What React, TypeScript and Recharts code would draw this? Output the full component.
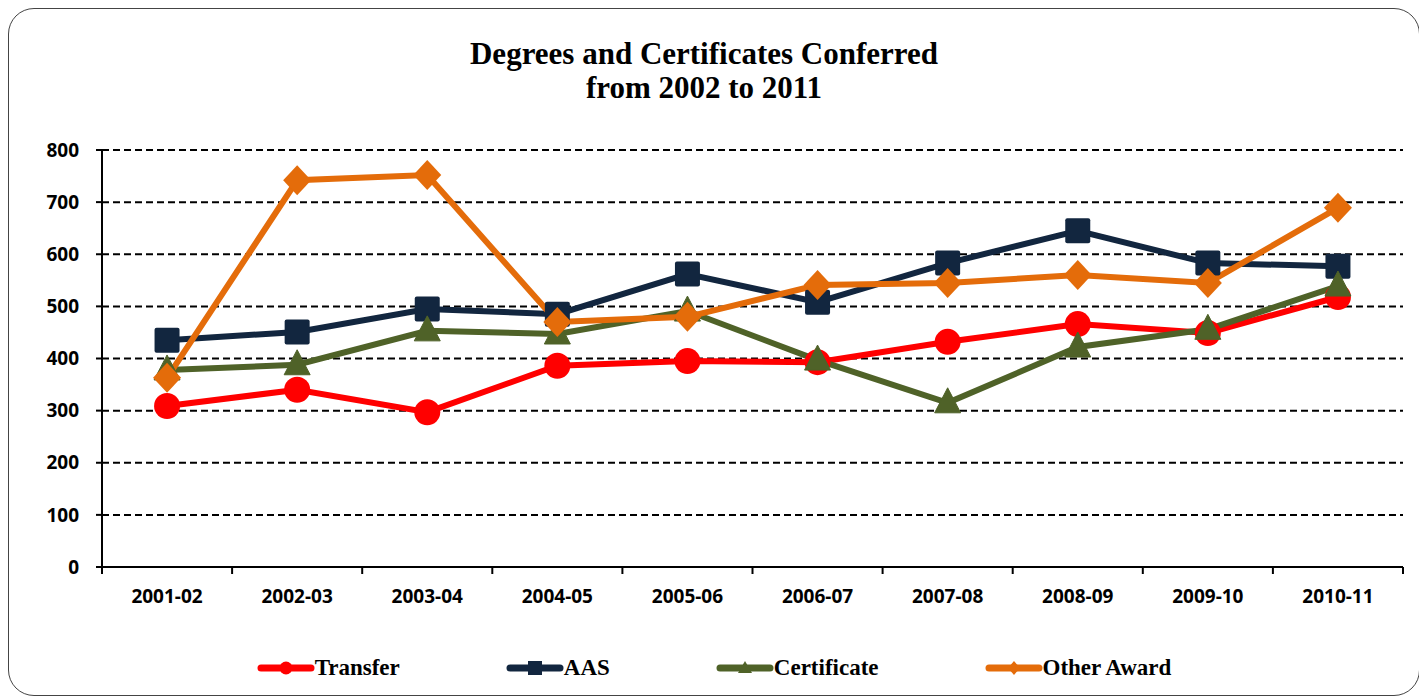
import { LineChart, Line, XAxis, YAxis, CartesianGrid } from "recharts";

const years = [
  "2001-02",
  "2002-03",
  "2003-04",
  "2004-05",
  "2005-06",
  "2006-07",
  "2007-08",
  "2008-09",
  "2009-10",
  "2010-11",
];
const transfer = [309, 340, 297, 386, 395, 393, 432, 466, 449, 518];
const aas = [435, 451, 495, 485, 562, 508, 583, 645, 583, 577];
const certificate = [378, 388, 453, 447, 491, 397, 315, 422, 456, 539];
const otherAward = [363, 742, 752, 470, 480, 541, 545, 560, 545, 689];
const yTicks = [0, 100, 200, 300, 400, 500, 600, 700, 800];

const RED = "#FF0000";
const NAVY = "#12263F";
const GREEN = "#4F6228";
const ORANGE = "#E46C0A";

const data = years.map((year, i) => ({
  year,
  transfer: transfer[i],
  aas: aas[i],
  certificate: certificate[i],
  otherAward: otherAward[i],
}));

const CHART_W = 1410;
const CHART_H = 686;
const X_AXIS_H = 60;
const MARGIN = { top: 141, right: 16, bottom: 128 - X_AXIS_H, left: 0 };
const Y_AXIS_W = 93;
const HALF_BAND =
  (CHART_W - MARGIN.left - MARGIN.right - Y_AXIS_W) / years.length / 2;

const font = "'Open Sans', sans-serif";
const serif = "'Liberation Serif', 'Times New Roman', serif";

// marker shapes
const Circle = (p: any) => (
  <circle key={p.key} cx={p.cx} cy={p.cy} r={13} fill={RED} />
);
const Square = (p: any) => (
  <rect
    key={p.key}
    x={p.cx - 12.5}
    y={p.cy - 12.5}
    width={25}
    height={25}
    rx={2}
    fill={NAVY}
  />
);
const Triangle = (p: any) => (
  <path
    key={p.key}
    d={`M${p.cx},${p.cy - 15} L${p.cx + 13},${p.cy + 10} L${p.cx - 13},${p.cy + 10} Z`}
    fill={GREEN}
    stroke={GREEN}
    strokeWidth={1}
    strokeLinejoin="round"
  />
);
const Diamond = (p: any) => (
  <path
    key={p.key}
    d={`M${p.cx},${p.cy - 15} L${p.cx + 14},${p.cy} L${p.cx},${p.cy + 15} L${p.cx - 14},${p.cy} Z`}
    fill={ORANGE}
  />
);

const XTick = (p: any) => {
  const { x, y, payload, index } = p;
  return (
    <g>
      <line x1={x - HALF_BAND} x2={x - HALF_BAND} y1={y} y2={y + 7} stroke="#000" strokeWidth={2} />
      {index === years.length - 1 && (
        <line x1={x + HALF_BAND} x2={x + HALF_BAND} y1={y} y2={y + 7} stroke="#000" strokeWidth={2} />
      )}
      <text
        x={x}
        y={y + 29}
        textAnchor="middle"
        dominantBaseline="central"
        fontFamily={font}
        fontWeight={700}
        fontSize={19}
        fill="#000">
        {payload.value}
      </text>
    </g>
  );
};

const legendItems = [
  { name: "Transfer", color: RED, shape: "circle" },
  { name: "AAS", color: NAVY, shape: "square" },
  { name: "Certificate", color: GREEN, shape: "triangle" },
  { name: "Other Award", color: ORANGE, shape: "diamond" },
];

function LegendIcon({ color, shape }: { color: string; shape: string }) {
  return (
    <svg width={58} height={20} style={{ display: "block" }}>
      <line x1={4} x2={54} y1={10} y2={10} stroke={color} strokeWidth={7} strokeLinecap="round" />
      {shape === "circle" && <circle cx={29} cy={10} r={6.5} fill={color} />}
      {shape === "square" && <rect x={22} y={3} width={14} height={14} fill={color} />}
      {shape === "triangle" && <path d="M29,3 L36,15 L22,15 Z" fill={color} />}
      {shape === "diamond" && <path d="M29,3 L35,10 L29,17 L23,10 Z" fill={color} />}
    </svg>
  );
}

export default function App() {
  return (
    <div
      style={{
        position: "relative",
        width: 1412,
        height: 688,
        border: "1px solid #444",
        borderRadius: 26,
        boxSizing: "border-box",
        background: "#fff",
      }}>
      <div
        style={{
          position: "absolute",
          top: 28,
          left: 0,
          width: 1390,
          textAlign: "center",
          fontFamily: serif,
          fontWeight: 700,
          fontSize: 31,
          lineHeight: "34px",
          color: "#000",
        }}>
        Degrees and Certificates Conferred
        <br />
        from 2002 to 2011
      </div>

      <LineChart width={CHART_W} height={CHART_H} data={data} margin={MARGIN}>
        <CartesianGrid
          horizontal
          vertical={false}
          stroke="#000"
          strokeWidth={2}
          strokeDasharray="7 4"
        />
        <XAxis
          dataKey="year"
          scale="band"
          height={X_AXIS_H}
          axisLine={{ stroke: "#000", strokeWidth: 2 }}
          tickLine={false}
          tickSize={0}
          tickMargin={0}
          tick={<XTick />}
          interval={0}
        />
        <YAxis
          width={Y_AXIS_W}
          domain={[0, 800]}
          ticks={yTicks}
          axisLine={{ stroke: "#000", strokeWidth: 2 }}
          tickLine={{ stroke: "#000", strokeWidth: 2 }}
          tickSize={6}
          tickMargin={17}
          tick={{ fill: "#000", fontFamily: font, fontWeight: 700, fontSize: 19 }}
        />
        <Line
          dataKey="transfer"
          stroke={RED}
          strokeWidth={6}
          dot={Circle}
          activeDot={false}
          isAnimationActive={false}
        />
        <Line
          dataKey="aas"
          stroke={NAVY}
          strokeWidth={6}
          dot={Square}
          activeDot={false}
          isAnimationActive={false}
        />
        <Line
          dataKey="certificate"
          stroke={GREEN}
          strokeWidth={6}
          dot={Triangle}
          activeDot={false}
          isAnimationActive={false}
        />
        <Line
          dataKey="otherAward"
          stroke={ORANGE}
          strokeWidth={6}
          dot={Diamond}
          activeDot={false}
          isAnimationActive={false}
        />
      </LineChart>

      <div
        style={{
          position: "absolute",
          top: 644,
          left: 0,
          width: 1410,
          height: 30,
          display: "flex",
          justifyContent: "center",
          alignItems: "center",
          gap: 106,
          fontFamily: serif,
          fontWeight: 700,
          fontSize: 23,
          color: "#000",
        }}>
        {legendItems.map((item) => (
          <div key={item.name} style={{ display: "flex", alignItems: "center" }}>
            <LegendIcon color={item.color} shape={item.shape} />
            <span>{item.name}</span>
          </div>
        ))}
      </div>
    </div>
  );
}
